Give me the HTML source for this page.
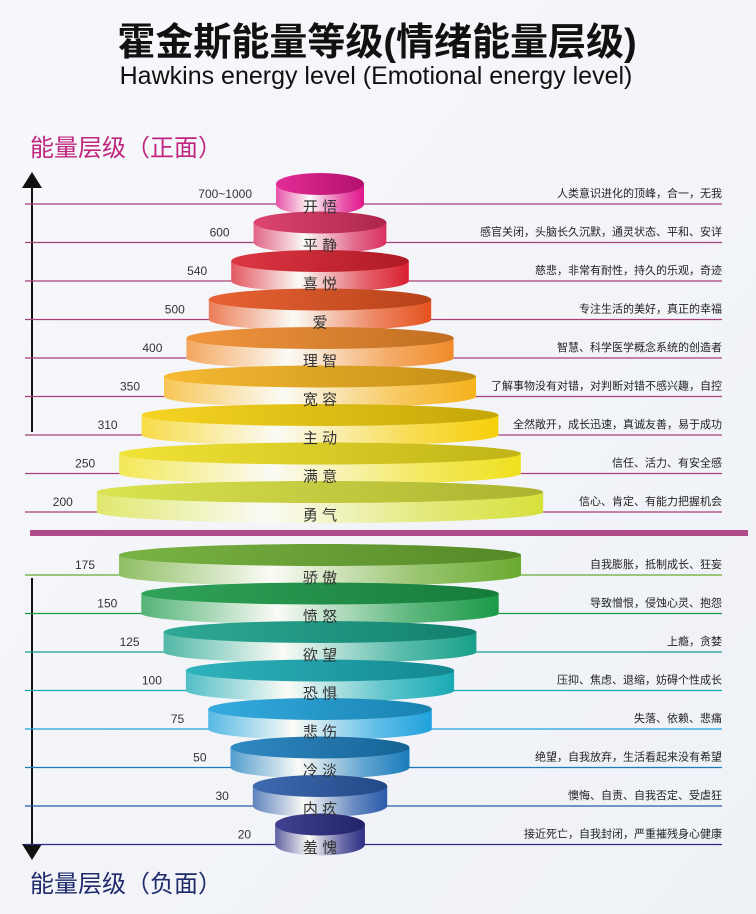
<!DOCTYPE html>
<html><head><meta charset="utf-8">
<style>
html,body{margin:0;padding:0;background:#f4f6fa;}
svg{display:block;font-family:"Liberation Sans","Noto Sans CJK SC",sans-serif;}
</style></head>
<body>
<svg id="chart" width="756" height="914" viewBox="0 0 756 914" xmlns="http://www.w3.org/2000/svg">
<defs>
<linearGradient id="bg" x1="0" y1="0" x2="1" y2="1"><stop offset="0" stop-color="#f7f8fb"/><stop offset="1" stop-color="#eef1f6"/></linearGradient>
<marker id="ah" markerWidth="8" markerHeight="10" refX="4" refY="5" orient="auto"><path d="M0,0 L8,5 L0,10 Z" fill="#111"/></marker>
</defs>
<rect width="756" height="914" fill="url(#bg)"/>
<text x="377" y="55" text-anchor="middle" font-size="38" font-weight="bold" fill="#111">霍金斯能量等级(情绪能量层级)</text>
<text x="376" y="84" text-anchor="middle" font-size="25" fill="#111">Hawkins energy level (Emotional energy level)</text>
<text x="30" y="156" font-size="24" fill="#c0267f">能量层级（正面）</text>
<text x="30" y="892" font-size="24" fill="#1f2a6b">能量层级（负面）</text>
<line x1="32" y1="432" x2="32" y2="180" stroke="#111" stroke-width="2" marker-end="url(#ah)"/>
<line x1="32" y1="578" x2="32" y2="852" stroke="#111" stroke-width="2" marker-end="url(#ah)"/>
<rect x="30" y="530" width="718" height="6" fill="#b04a88"/>
<g id="lines"></g><g id="discs"></g><g id="labels"></g>
</svg>
<script>
const posNames=["开 悟","平 静","喜 悦","爱","理 智","宽 容","主 动","满 意","勇 气"];
const posValues=["700~1000","600","540","500","400","350","310","250","200"];
const posDesc=["人类意识进化的顶峰，合一，无我","感官关闭，头脑长久沉默，通灵状态、平和、安详","慈悲，非常有耐性，持久的乐观，奇迹","专注生活的美好，真正的幸福","智慧、科学医学概念系统的创造者","了解事物没有对错，对判断对错不感兴趣，自控","全然敞开，成长迅速，真诚友善，易于成功","信任、活力、有安全感","信心、肯定、有能力把握机会"];
const posColors=["#e0158a","#d8305f","#d9202e","#e5521f","#f08a2a","#f5b21c","#f5cf0a","#efe01e","#d6e03c"];
const negNames=["骄 傲","愤 怒","欲 望","恐 惧","悲 伤","冷 淡","内 疚","羞 愧"];
const negValues=["175","150","125","100","75","50","30","20"];
const negDesc=["自我膨胀，抵制成长、狂妄","导致憎恨，侵蚀心灵、抱怨","上瘾，贪婪","压抑、焦虑、退缩，妨碍个性成长","失落、依赖、悲痛","绝望，自我放弃，生活看起来没有希望","懊悔、自责、自我否定、受虐狂","接近死亡，自我封闭，严重摧残身心健康"];
const negColors=["#6aaa30","#1a9a48","#17a08a","#18aab4","#1ea2dc","#1a7cbc","#2a5aa8","#2c2c84"];

const NS="http://www.w3.org/2000/svg";
const linesG=document.getElementById('lines'),discsG=document.getElementById('discs'),labelsG=document.getElementById('labels'),defs=document.querySelector('defs');
const CX=320,STEP=38.5;
function posY(i){return 204+i*STEP;}
function posHW(i){return 44+i*22.4;}
function negY(i){return 575+i*STEP;}
function negHW(i){return 201-i*22.3;}
function mk(tag,attrs,parent){const e=document.createElementNS(NS,tag);for(const k in attrs)e.setAttribute(k,attrs[k]);parent.appendChild(e);return e;}
function shade(hex,f){const n=parseInt(hex.slice(1),16);let r=n>>16,g=(n>>8)&255,b=n&255;const m=c=>Math.max(0,Math.min(255,Math.round(f<0?c*(1+f):c+(255-c)*f)));return `rgb(${m(r)},${m(g)},${m(b)})`;}
let gid=0;
function drawLevel(y,hw,name,val,desc,color,lineColor,key){
  const ln=mk('line',{x1:25,y1:y,x2:722,y2:y,stroke:lineColor,'stroke-width':1.2},linesG);
  
  
  const vt=mk('text',{x:CX-hw-24,y:y-6,'text-anchor':'end','font-size':12,fill:'#333'},linesG);vt.textContent=val;
  
  
  const dt=mk('text',{x:722,y:y-7,'text-anchor':'end','font-size':11,fill:'#222'},linesG);dt.textContent=desc;
  
  
  const id='g'+(gid++);
  const lg=mk('linearGradient',{id:id,x1:0,y1:0,x2:1,y2:0},defs);
  mk('stop',{offset:0,'stop-color':shade(color,0.25)},lg);
  mk('stop',{offset:0.38,'stop-color':'#fbfbf6'},lg);
  mk('stop',{offset:0.75,'stop-color':shade(color,0.3)},lg);
  mk('stop',{offset:1,'stop-color':color},lg);
  const id2='g'+(gid++);
  const tg=mk('linearGradient',{id:id2,x1:0,y1:0,x2:1,y2:0},defs);
  mk('stop',{offset:0,'stop-color':shade(color,0.1)},tg);
  mk('stop',{offset:1,'stop-color':shade(color,-0.2)},tg);
  const g=mk('g',{},discsG);
  
  
  const topCy=y-20,botCy=y,ry=11,l=CX-hw,r=CX+hw;
  mk('path',{d:`M${l},${topCy} L${l},${botCy} A${hw},${ry} 0 0 0 ${r},${botCy} L${r},${topCy} Z`,fill:`url(#${id})`},g);
  mk('ellipse',{cx:CX,cy:topCy,rx:hw,ry:ry,fill:`url(#${id2})`},g);
  const t=mk('text',{x:CX,y:y+8,'text-anchor':'middle','font-size':15,fill:'#333'},labelsG);t.textContent=name;
  
  
}
posNames.forEach((n,i)=>drawLevel(posY(i),posHW(i),n,posValues[i],posDesc[i],posColors[i],'#a8407a','positive-level-'+i));
negNames.forEach((n,i)=>drawLevel(negY(i),negHW(i),n,negValues[i],negDesc[i],negColors[i],negColors[i],'negative-level-'+i));
</script>
</body></html>
